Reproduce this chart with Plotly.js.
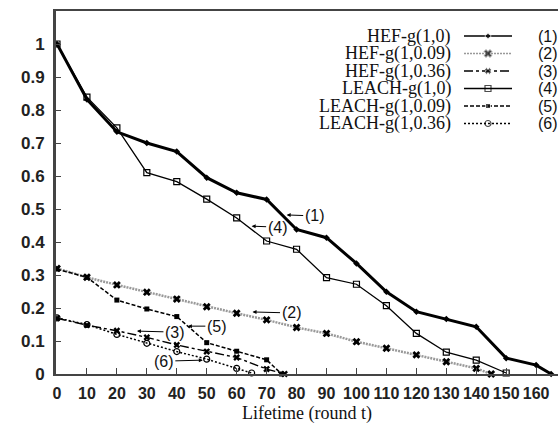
<!DOCTYPE html>
<html><head><meta charset="utf-8">
<script src="https://cdn.plot.ly/plotly-3.0.1.min.js"></script>
<style>html,body{margin:0;padding:0;background:#fff}#chart{width:558px;height:426px}</style>
</head><body><div id="chart"></div>
<script>
// ---- data ----
const t1 = [0,10,20,30,40,50,60,70,80,90,100,110,120,130,140,150,160,165];
const v1 = [1.0,0.832,0.734,0.70,0.674,0.595,0.549,0.529,0.438,0.413,0.335,0.249,0.189,0.167,0.143,0.048,0.027,0];
const t2 = [0,10,20,30,40,50,60,70,80,90,100,110,120,130,140,145];
const v2 = [0.32,0.293,0.27,0.248,0.227,0.204,0.184,0.164,0.141,0.123,0.098,0.078,0.058,0.037,0.017,0];
const t3 = [0,10,20,30,40,50,60,70,76];
const v3 = [0.169,0.148,0.131,0.111,0.088,0.068,0.05,0.015,0];
const t4 = [0,10,20,30,40,50,60,70,80,90,100,110,120,130,140,150];
const v4 = [1.0,0.839,0.746,0.61,0.583,0.53,0.473,0.403,0.378,0.292,0.272,0.207,0.123,0.066,0.042,0.003];
const t5 = [0,10,20,30,40,50,60,70,75];
const v5 = [0.318,0.293,0.224,0.197,0.174,0.095,0.069,0.043,0];
const t6 = [0,10,20,30,40,50,60,65];
const v6 = [0.17,0.15,0.12,0.093,0.068,0.045,0.017,0.003];

const seriesNames = ['HEF-g(1,0)','HEF-g(1,0.09)','HEF-g(1,0.36)','LEACH-g(1,0)','LEACH-g(1,0.09)','LEACH-g(1,0.36)'];
const seriesTags = ['(1)','(2)','(3)','(4)','(5)','(6)'];
const xTicks = [0,10,20,30,40,50,60,70,80,90,100,110,120,130,140,150,160];
const yTicks = [0,0.1,0.2,0.3,0.4,0.5,0.6,0.7,0.8,0.9,1];
const yTickText = ['0','0.1','0.2','0.3','0.4','0.5','0.6','0.7','0.8','0.9','1'];
// callout labels: [tag, x, y, ax, ay]
const callouts = [
  ['(1)', 76.7, 0.482, 28, 1],
  ['(4)', 65, 0.448, 26, 1],
  ['(2)', 65.3, 0.188, 39, 1],
  ['(5)', 43.7, 0.145, 29, 0],
  ['(3)', 26.7, 0.13, 38, 1],
  ['(6)', 48.7, 0.042, -39, 1]
];

// ---- styles ----
const styles = [
  {line:{color:'#000',width:3,dash:'solid'}, marker:{symbol:'diamond',size:5,color:'#000'}},
  {line:{color:'#999',width:2.5,dash:'2px,1px'}, marker:{symbol:'x',size:7,color:'#000'}},
  {line:{color:'#000',width:1.4,dash:'dashdot'}, marker:{symbol:'x',size:6,color:'#000'}},
  {line:{color:'#000',width:1.3,dash:'solid'}, marker:{symbol:'square-open',size:6,color:'#000',line:{width:1.2}}},
  {line:{color:'#000',width:1.5,dash:'4px,2px'}, marker:{symbol:'square',size:5,color:'#000'}},
  {line:{color:'#000',width:1.5,dash:'2px,2px'}, marker:{symbol:'circle-open',size:6,color:'#000',line:{width:1.2}}}
];
const xs = [t1,t2,t3,t4,t5,t6];
const ys = [v1,v2,v3,v4,v5,v6];

const traces = [];
[1,2,4,5,3,0].forEach(i => {
  traces.push({x:xs[i], y:ys[i], type:'scatter', mode:'lines+markers', name:seriesNames[i],
    line:styles[i].line, marker:styles[i].marker, cliponaxis:false, showlegend:false, hoverinfo:'skip'});
});

// legend samples on overlay pixel-like axes
const legRowY = [36,53.5,71,88.5,106,123.5];
const legX0 = 464, legX1 = 512;
seriesNames.forEach((n,i) => {
  traces.push({x:[legX0,(legX0+legX1)/2,legX1], y:[legRowY[i],legRowY[i],legRowY[i]],
    xaxis:'x2', yaxis:'y2', type:'scatter', mode:'lines+markers',
    line:Object.assign({}, styles[i].line, {width:Math.min(styles[i].line.width,1.5)}),
    marker:Object.assign({}, styles[i].marker, {size:[0,styles[i].marker.size,0]}),
    cliponaxis:false, showlegend:false, hoverinfo:'skip'});
});

const annotations = [];
seriesNames.forEach((n,i) => {
  annotations.push({xref:'x2', yref:'y2', x:453, y:legRowY[i], text:n, showarrow:false,
    xanchor:'right', yanchor:'middle', font:{family:'Liberation Serif', size:18, color:'#111'}});
  annotations.push({xref:'x2', yref:'y2', x:548, y:legRowY[i], text:seriesTags[i], showarrow:false,
    xanchor:'center', yanchor:'middle', font:{family:'Liberation Sans', size:16, color:'#111'}});
});
callouts.forEach(c => {
  annotations.push({x:c[1], y:c[2], ax:c[3], ay:c[4], text:c[0], showarrow:true,
    arrowhead:2, arrowsize:0.8, arrowwidth:1, arrowcolor:'#000',
    font:{family:'Liberation Sans', size:16, color:'#111'}});
});

const layout = {
  width:558, height:426,
  margin:{l:56, r:0, t:11, b:52},
  paper_bgcolor:'#fff', plot_bgcolor:'#fff',
  showlegend:false,
  xaxis:{range:[-0.33,167.3], tickvals:xTicks, ticktext:xTicks.map(String), tickangle:0,
    ticks:'inside', ticklen:6, tickcolor:'#444', tickwidth:1,
    showline:true, linecolor:'#444', linewidth:2, mirror:true,
    showgrid:false, zeroline:false, ticklabelstandoff:4,
    tickfont:{family:'Liberation Sans', size:16, color:'#222', weight:'bold'},
    title:{text:'Lifetime (round t)', font:{family:'Liberation Serif', size:18, color:'#111'}, standoff:5}},
  yaxis:{range:[0,1.1], tickvals:yTicks, ticktext:yTickText,
    ticks:'inside', ticklen:5, tickcolor:'#444', tickwidth:1,
    showline:true, linecolor:'#444', linewidth:3,
    showgrid:false, zeroline:false, ticklabelstandoff:5,
    tickfont:{family:'Liberation Sans', size:17, color:'#222', weight:'bold'}},
  xaxis2:{overlaying:'x', range:[56,558], visible:false, fixedrange:true},
  yaxis2:{overlaying:'y', range:[374,11], visible:false, fixedrange:true},
  annotations:annotations
};

Plotly.newPlot('chart', traces, layout, {staticPlot:true, displayModeBar:false});
</script></body></html>
